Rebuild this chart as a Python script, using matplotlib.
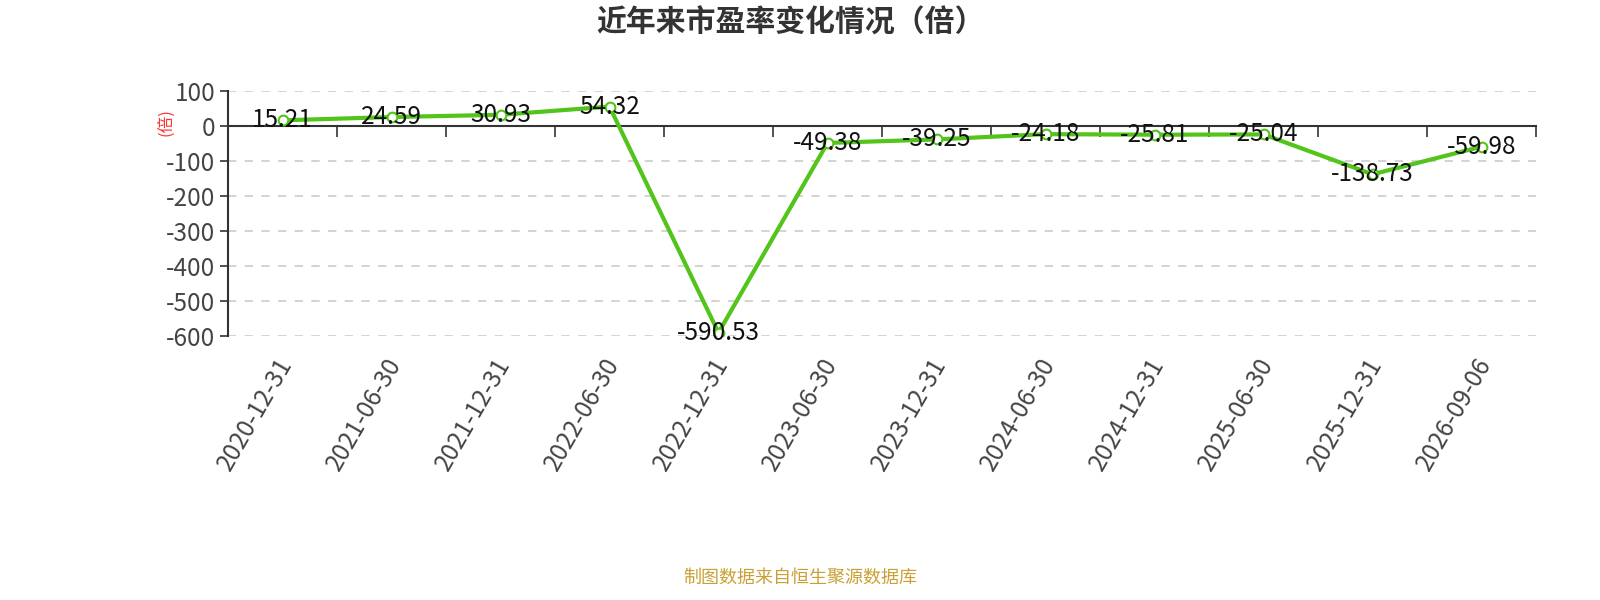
import matplotlib
matplotlib.use("Agg")
import matplotlib.pyplot as plt
import numpy as np

plt.rcParams['font.family'] = ['Noto Sans CJK SC', 'DejaVu Sans']

# data
dates = ['2020-12-31', '2021-06-30', '2021-12-31', '2022-06-30', '2022-12-31', '2023-06-30',
         '2023-12-31', '2024-06-30', '2024-12-31', '2025-06-30', '2025-12-31', '2026-09-06']
pe_values = [15.21, 24.59, 30.93, 54.32, -590.53, -49.38,
             -39.25, -24.18, -25.81, -25.04, -138.73, -59.98]
y_ticks = [100, 0, -100, -200, -300, -400, -500, -600]

line_color = '#52c41a'
axis_color = '#333333'

fig = plt.figure(figsize=(16, 6), dpi=100)
ax = fig.add_axes([0.1425, 0.44, 0.96 - 0.1425, 0.849 - 0.44])

x = np.arange(len(dates))
ax.plot(x, pe_values, color=line_color, linewidth=3, marker='o', markersize=7,
        markerfacecolor='white', markeredgecolor=line_color, markeredgewidth=1.5, zorder=3)

for xi, v in zip(x, pe_values):
    ax.text(xi, v, f'{v:.2f}', ha='center', va='center', fontsize=17.5, color='#111111', zorder=4)

ax.set_xlim(-0.5, len(dates) - 0.5)
ax.set_ylim(-600, 100)
ax.set_yticks(y_ticks)
ax.set_yticklabels([str(v) for v in y_ticks])
ax.tick_params(axis='y', labelsize=17.5, colors=axis_color, length=6, width=1.2, pad=3)
ax.tick_params(axis='y', labelcolor='#444444')

# horizontal dashed grid
for yv in y_ticks:
    if yv != 0:
        ax.axhline(yv, color='#cccccc', linewidth=1.2, linestyle=(0, (5, 5)), zorder=0)

# x axis sits on zero line, ticks at band boundaries
ax.spines['bottom'].set_position(('data', 0))
ax.spines['bottom'].set_color(axis_color)
ax.spines['bottom'].set_linewidth(1.5)
ax.spines['left'].set_color(axis_color)
ax.spines['left'].set_linewidth(1.5)
ax.spines['top'].set_visible(False)
ax.spines['right'].set_visible(False)

ax.set_xticks(np.arange(-0.5, len(dates), 1.0), minor=True)
ax.set_xticks(x)
ax.tick_params(axis='x', which='minor', length=8, width=1.2, color=axis_color, direction='out')
ax.tick_params(axis='x', which='major', length=0)
ax.set_xticklabels([])

# date labels placed below the plot area
for xi, d in zip(x, dates):
    ax.annotate(d, xy=(xi, -600), xytext=(3, -17), textcoords='offset points',
                rotation=60, ha='right', va='center', rotation_mode='anchor',
                fontsize=17.5, color='#444444', annotation_clip=False)

fig.text(0.1035, 0.797, '(倍)', rotation=90, color='#ff3333', fontsize=12,
         ha='center', va='center')

fig.text(0.494, 0.962, '近年来市盈率变化情况（倍）', ha='center', va='center',
         fontsize=21.5, fontweight='bold', color='#333333')
fig.text(0.5, 0.037, '制图数据来自恒生聚源数据库', ha='center', va='center',
         fontsize=13, color='#c9a035')

fig.savefig('out.png', dpi=100)
